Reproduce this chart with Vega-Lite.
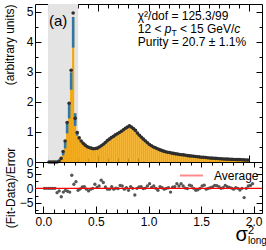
{
  "$schema": "https://vega.github.io/schema/vega-lite/v6.json",
  "padding": {"left": 2, "top": 3, "right": 0, "bottom": 0},
  "background": "white",
  "spacing": 0,
  "bounds": "flush",
  "config": {
    "font": "Liberation Sans",
    "view": {"stroke": "#000", "strokeWidth": 1},
    "axis": {"domain": false, "grid": false, "zindex": 1, "labelFont": "Liberation Sans", "labelFontSize": 12, "labelColor": "#000", "tickColor": "#000", "tickWidth": 1, "titleFont": "Liberation Sans", "titleFontSize": 12, "titleFontWeight": "normal", "titleColor": "#000", "labelOverlap": false, "labelFlush": false},
    "text": {"font": "Liberation Sans", "color": "#000"}
  },
  "datasets": {
    "h": [
      {"x":0.01,"d":0,"f":0,"r":0},{"x":0.03,"d":0,"f":0,"r":0},{"x":0.05,"d":0,"f":0,"r":0},{"x":0.07,"d":0,"f":0,"r":0},{"x":0.09,"d":0,"f":0,"r":0},
      {"x":0.11,"d":0.03,"f":0.03,"r":0},{"x":0.13,"d":0.12,"f":0.11,"r":-1.5},{"x":0.15,"d":0.35,"f":0.34,"r":-0.9},{"x":0.17,"d":0.7,"f":0.66,"r":-2.9},{"x":0.19,"d":1.31,"f":1.27,"r":-1.3},
      {"x":0.21,"d":1.95,"f":1.92,"r":-0.7},{"x":0.23,"d":3.05,"f":2.98,"r":-1.0},{"x":0.25,"d":4.95,"f":4.82,"r":-1.3},{"x":0.27,"d":1.45,"f":1.62,"r":4.5},{"x":0.29,"d":0.98,"f":1.02,"r":1.4},
      {"x":0.31,"d":0.8,"f":0.84,"r":2.3},{"x":0.33,"d":0.7,"f":0.69,"r":-0.7},{"x":0.35,"d":0.62,"f":0.62,"r":-0.2},{"x":0.37,"d":0.56,"f":0.57,"r":0.5},{"x":0.39,"d":0.51,"f":0.52,"r":0.6},
      {"x":0.41,"d":0.48,"f":0.48,"r":-0.3},{"x":0.43,"d":0.46,"f":0.45,"r":-0.9},{"x":0.45,"d":0.44,"f":0.44,"r":-0.3},{"x":0.47,"d":0.45,"f":0.45,"r":0},{"x":0.49,"d":0.46,"f":0.47,"r":1.4},
      {"x":0.51,"d":0.5,"f":0.5,"r":0.3},{"x":0.53,"d":0.54,"f":0.55,"r":0.8},{"x":0.55,"d":0.59,"f":0.61,"r":2.8},{"x":0.57,"d":0.65,"f":0.67,"r":2.0},{"x":0.59,"d":0.71,"f":0.71,"r":0.5},
      {"x":0.61,"d":0.76,"f":0.76,"r":-0.3},{"x":0.63,"d":0.81,"f":0.81,"r":-0.3},{"x":0.65,"d":0.85,"f":0.86,"r":0.6},{"x":0.67,"d":0.9,"f":0.9,"r":-0.3},{"x":0.69,"d":0.94,"f":0.94,"r":0.1},
      {"x":0.71,"d":0.98,"f":0.98,"r":-0.1},{"x":0.73,"d":1.02,"f":1.03,"r":1.0},{"x":0.75,"d":1.07,"f":1.08,"r":0.8},{"x":0.77,"d":1.12,"f":1.12,"r":-0.3},{"x":0.79,"d":1.16,"f":1.16,"r":0.2},
      {"x":0.81,"d":1.2,"f":1.19,"r":-0.7},{"x":0.83,"d":1.16,"f":1.17,"r":0.6},{"x":0.85,"d":1.11,"f":1.11,"r":0},{"x":0.87,"d":1.05,"f":1.02,"r":-2.3},{"x":0.89,"d":0.96,"f":0.96,"r":0},
      {"x":0.91,"d":0.89,"f":0.89,"r":0.5},{"x":0.93,"d":0.82,"f":0.82,"r":0.6},{"x":0.95,"d":0.76,"f":0.76,"r":-0.1},{"x":0.97,"d":0.7,"f":0.7,"r":0.1},{"x":0.99,"d":0.64,"f":0.64,"r":0.8},
      {"x":1.01,"d":0.58,"f":0.59,"r":1.6},{"x":1.03,"d":0.54,"f":0.54,"r":0.3},{"x":1.05,"d":0.5,"f":0.5,"r":0.8},{"x":1.07,"d":0.47,"f":0.47,"r":0},{"x":1.09,"d":0.44,"f":0.44,"r":-0.7},
      {"x":1.11,"d":0.41,"f":0.41,"r":0.6},{"x":1.13,"d":0.385,"f":0.385,"r":0.2},{"x":1.15,"d":0.36,"f":0.36,"r":-0.3},{"x":1.17,"d":0.34,"f":0.34,"r":0},{"x":1.19,"d":0.325,"f":0.325,"r":0.2},
      {"x":1.21,"d":0.315,"f":0.31,"r":-1.3},{"x":1.23,"d":0.295,"f":0.295,"r":0.4},{"x":1.25,"d":0.285,"f":0.285,"r":0.6},{"x":1.27,"d":0.27,"f":0.275,"r":1.6},{"x":1.29,"d":0.262,"f":0.265,"r":0.8},
      {"x":1.31,"d":0.25,"f":0.255,"r":1.6},{"x":1.33,"d":0.243,"f":0.245,"r":0.8},{"x":1.35,"d":0.235,"f":0.235,"r":0.1},{"x":1.37,"d":0.225,"f":0.225,"r":-0.1},{"x":1.39,"d":0.212,"f":0.215,"r":1.1},
      {"x":1.41,"d":0.203,"f":0.205,"r":0.8},{"x":1.43,"d":0.197,"f":0.197,"r":0},{"x":1.45,"d":0.192,"f":0.19,"r":-0.7},{"x":1.47,"d":0.184,"f":0.183,"r":-0.5},{"x":1.49,"d":0.176,"f":0.176,"r":0},
      {"x":1.51,"d":0.166,"f":0.168,"r":0.8},{"x":1.53,"d":0.158,"f":0.161,"r":1.1},{"x":1.55,"d":0.156,"f":0.155,"r":-0.3},{"x":1.57,"d":0.148,"f":0.148,"r":0},{"x":1.59,"d":0.142,"f":0.142,"r":0.2},
      {"x":1.61,"d":0.135,"f":0.136,"r":0.5},{"x":1.63,"d":0.128,"f":0.13,"r":1.0},{"x":1.65,"d":0.123,"f":0.125,"r":0.9},{"x":1.67,"d":0.119,"f":0.12,"r":0.6},{"x":1.69,"d":0.115,"f":0.115,"r":0},
      {"x":1.71,"d":0.11,"f":0.11,"r":0.2},{"x":1.73,"d":0.104,"f":0.106,"r":1.0},{"x":1.75,"d":0.101,"f":0.102,"r":0.6},{"x":1.77,"d":0.097,"f":0.098,"r":0.3},{"x":1.79,"d":0.094,"f":0.094,"r":0.1},
      {"x":1.81,"d":0.091,"f":0.09,"r":-0.3},{"x":1.83,"d":0.087,"f":0.087,"r":0.2},{"x":1.85,"d":0.084,"f":0.084,"r":0},{"x":1.87,"d":0.082,"f":0.081,"r":-0.6},{"x":1.89,"d":0.078,"f":0.078,"r":0},
      {"x":1.91,"d":0.08,"f":0.075,"r":-3.2},{"x":1.93,"d":0.073,"f":0.073,"r":0},{"x":1.95,"d":0.069,"f":0.07,"r":0.8},{"x":1.97,"d":0.067,"f":0.068,"r":1.0},{"x":1.99,"d":0.064,"f":0.066,"r":1.6}
    ],
    "sig": [
      {"x":0.15,"lo":0.22,"hi":0.34},{"x":0.17,"lo":0.45,"hi":0.66},{"x":0.19,"lo":0.95,"hi":1.27},{"x":0.21,"lo":1.45,"hi":1.92},
      {"x":0.23,"lo":2.4,"hi":2.98},{"x":0.25,"lo":3.8,"hi":4.82},{"x":0.27,"lo":1.2,"hi":1.62},{"x":0.29,"lo":0.88,"hi":1.02}
    ]
  },
  "resolve": {"scale": {"color": "independent"}},
  "vconcat": [
    {
      "width": 227,
      "height": 158,
      "resolve": {"axis": {"x": "independent", "y": "independent"}},
      "layer": [
        {
          "data": {"values": [{}]},
          "mark": {"type": "rect", "color": "#e4e4e4"},
          "encoding": {
            "x": {"datum": 0, "type": "quantitative", "scale": {"domain": [-0.08, 2.08], "nice": false, "zero": false},
                  "axis": {"orient": "bottom", "labels": false, "title": null, "values": [0,0.1,0.2,0.3,0.4,0.5,0.6,0.7,0.8,0.9,1,1.1,1.2,1.3,1.4,1.5,1.6,1.7,1.8,1.9,2],
                           "tickSize": {"condition": {"test": "abs(datum.value*2-round(datum.value*2))<0.001", "value": -7}, "value": -4}}},
            "x2": {"datum": 0.3},
            "y": {"datum": 0, "type": "quantitative", "scale": {"domain": [0, 5.25], "nice": false, "zero": false},
                  "axis": {"orient": "left", "title": "(arbitrary units)", "titleAnchor": "end", "titlePadding": 10, "labelPadding": 8,
                           "values": [0,0.5,1,1.5,2,2.5,3,3.5,4,4.5,5],
                           "labelExpr": "abs(datum.value-round(datum.value))<0.001 ? format(datum.value,'d') : ''",
                           "tickSize": {"condition": {"test": "abs(datum.value-round(datum.value))<0.001", "value": -6}, "value": -3}}},
            "y2": {"datum": 5.25}
          }
        },
        {
          "data": {"name": "h"},
          "mark": {"type": "bar", "color": "#f3a70f", "width": 2.15},
          "encoding": {
            "x": {"field": "x", "type": "quantitative",
                  "axis": {"orient": "top", "labels": false, "title": null, "values": [0,0.1,0.2,0.3,0.4,0.5,0.6,0.7,0.8,0.9,1,1.1,1.2,1.3,1.4,1.5,1.6,1.7,1.8,1.9,2],
                           "tickSize": {"condition": {"test": "abs(datum.value*2-round(datum.value*2))<0.001", "value": -7}, "value": -4}}},
            "y": {"field": "f", "type": "quantitative", "stack": null,
                  "axis": {"orient": "right", "labels": false, "title": null, "values": [0,0.5,1,1.5,2,2.5,3,3.5,4,4.5,5],
                           "tickSize": {"condition": {"test": "abs(datum.value-round(datum.value))<0.001", "value": -6}, "value": -3}}}
          }
        },
        {
          "data": {"name": "sig"},
          "mark": {"type": "bar", "color": "#2f78a6", "width": 2.6},
          "encoding": {
            "x": {"field": "x", "type": "quantitative", "axis": null},
            "y": {"field": "lo", "type": "quantitative", "axis": null},
            "y2": {"field": "hi"}
          }
        },
        {
          "data": {"name": "h"},
          "mark": {"type": "circle", "size": 13, "color": "#2e2e2e", "opacity": 1},
          "encoding": {
            "x": {"field": "x", "type": "quantitative", "axis": null},
            "y": {"field": "d", "type": "quantitative", "axis": null}
          }
        },
        {
          "data": {"values": [{}]},
          "mark": {"type": "text", "text": "(a)", "fontSize": 15, "align": "left", "baseline": "middle"},
          "encoding": {"x": {"datum": 0.009, "type": "quantitative", "axis": null}, "y": {"datum": 4.69, "type": "quantitative", "axis": null}}
        },
        {
          "data": {"values": [{}]},
          "mark": {"type": "text", "text": "χ²/dof = 125.3/99", "fontSize": 12, "align": "left", "baseline": "alphabetic"},
          "encoding": {"x": {"datum": 0.893, "type": "quantitative", "axis": null}, "y": {"datum": 4.724, "type": "quantitative", "axis": null}}
        },
        {
          "data": {"values": [{}]},
          "mark": {"type": "text", "text": "12 <", "fontSize": 12, "align": "left", "baseline": "alphabetic"},
          "encoding": {"x": {"datum": 0.893, "type": "quantitative", "axis": null}, "y": {"datum": 4.291, "type": "quantitative", "axis": null}}
        },
        {
          "data": {"values": [{}]},
          "mark": {"type": "text", "text": "p", "fontSize": 12, "fontStyle": "italic", "align": "left", "baseline": "alphabetic", "dx": 27},
          "encoding": {"x": {"datum": 0.893, "type": "quantitative", "axis": null}, "y": {"datum": 4.291, "type": "quantitative", "axis": null}}
        },
        {
          "data": {"values": [{}]},
          "mark": {"type": "text", "text": "T", "fontSize": 8.5, "align": "left", "baseline": "alphabetic", "dx": 33.7, "dy": 3},
          "encoding": {"x": {"datum": 0.893, "type": "quantitative", "axis": null}, "y": {"datum": 4.291, "type": "quantitative", "axis": null}}
        },
        {
          "data": {"values": [{}]},
          "mark": {"type": "text", "text": "< 15 GeV/", "fontSize": 12, "align": "left", "baseline": "alphabetic", "dx": 42.2},
          "encoding": {"x": {"datum": 0.893, "type": "quantitative", "axis": null}, "y": {"datum": 4.291, "type": "quantitative", "axis": null}}
        },
        {
          "data": {"values": [{}]},
          "mark": {"type": "text", "text": "c", "fontSize": 12, "fontStyle": "italic", "align": "left", "baseline": "alphabetic", "dx": 96.6},
          "encoding": {"x": {"datum": 0.893, "type": "quantitative", "axis": null}, "y": {"datum": 4.291, "type": "quantitative", "axis": null}}
        },
        {
          "data": {"values": [{}]},
          "mark": {"type": "text", "text": "Purity = 20.7 ± 1.1%", "fontSize": 12, "align": "left", "baseline": "alphabetic"},
          "encoding": {"x": {"datum": 0.893, "type": "quantitative", "axis": null}, "y": {"datum": 3.859, "type": "quantitative", "axis": null}}
        }
      ]
    },
    {
      "width": 227,
      "height": 51,
      "resolve": {"axis": {"x": "independent", "y": "independent"}},
      "layer": [
        {
          "data": {"name": "h"},
          "mark": {"type": "circle", "size": 11, "color": "#555555", "opacity": 1},
          "encoding": {
            "x": {"field": "x", "type": "quantitative", "scale": {"domain": [-0.08, 2.08], "nice": false, "zero": false},
                  "axis": {"orient": "bottom", "title": null, "labelPadding": 10, "values": [0,0.1,0.2,0.3,0.4,0.5,0.6,0.7,0.8,0.9,1,1.1,1.2,1.3,1.4,1.5,1.6,1.7,1.8,1.9,2],
                           "labelExpr": "abs(datum.value*2-round(datum.value*2))<0.001 ? format(datum.value,'.1f') : ''",
                           "tickSize": {"condition": {"test": "abs(datum.value*2-round(datum.value*2))<0.001", "value": -7}, "value": -4}}},
            "y": {"field": "r", "type": "quantitative", "scale": {"domain": [-8.5, 9.07], "nice": false, "zero": false},
                  "axis": {"orient": "left", "title": "(Fit-Data)/Error", "titlePadding": 2, "labelPadding": 8,
                           "values": [-7.5,-5,-2.5,0,2.5,5,7.5],
                           "labelExpr": "abs(datum.value/5-round(datum.value/5))<0.001 ? format(datum.value,'d') : ''",
                           "tickSize": {"condition": {"test": "abs(datum.value/5-round(datum.value/5))<0.001", "value": -6}, "value": -3}}}
          }
        },
        {
          "data": {"values": [{}]},
          "mark": {"type": "rule", "strokeWidth": 1.3},
          "encoding": {
            "y": {"datum": 0, "type": "quantitative",
                  "axis": {"orient": "right", "labels": false, "title": null, "values": [-7.5,-5,-2.5,0,2.5,5,7.5],
                           "tickSize": {"condition": {"test": "abs(datum.value/5-round(datum.value/5))<0.001", "value": -6}, "value": -3}}},
            "color": {"datum": "Average", "type": "nominal", "scale": {"range": ["#ff0000"]},
                      "legend": {"title": null, "orient": "none", "legendX": 144, "legendY": 1, "symbolType": "stroke", "symbolSize": 529, "symbolStrokeWidth": 2, "symbolOpacity": 0.45, "labelFontSize": 12, "labelFont": "Liberation Sans", "labelColor": "#000", "labelOffset": 10, "padding": 0}}
          }
        },
        {
          "data": {"values": [{}]},
          "mark": {"type": "text", "text": "σ", "fontSize": 20, "align": "left", "baseline": "alphabetic"},
          "encoding": {
            "x": {"datum": 1.829, "type": "quantitative",
                  "axis": {"orient": "top", "labels": false, "title": null, "values": [0,0.1,0.2,0.3,0.4,0.5,0.6,0.7,0.8,0.9,1,1.1,1.2,1.3,1.4,1.5,1.6,1.7,1.8,1.9,2],
                           "tickSize": {"condition": {"test": "abs(datum.value*2-round(datum.value*2))<0.001", "value": -5}, "value": -3}}},
            "y": {"datum": -18.2, "type": "quantitative", "axis": null}
          }
        },
        {
          "data": {"values": [{}]},
          "mark": {"type": "text", "text": "2", "fontSize": 11, "align": "left", "baseline": "alphabetic"},
          "encoding": {"x": {"datum": 1.947, "type": "quantitative", "axis": null}, "y": {"datum": -15.6, "type": "quantitative", "axis": null}}
        },
        {
          "data": {"values": [{}]},
          "mark": {"type": "text", "text": "long", "fontSize": 10, "align": "left", "baseline": "alphabetic"},
          "encoding": {"x": {"datum": 1.947, "type": "quantitative", "axis": null}, "y": {"datum": -19.2, "type": "quantitative", "axis": null}}
        }
      ]
    }
  ]
}
